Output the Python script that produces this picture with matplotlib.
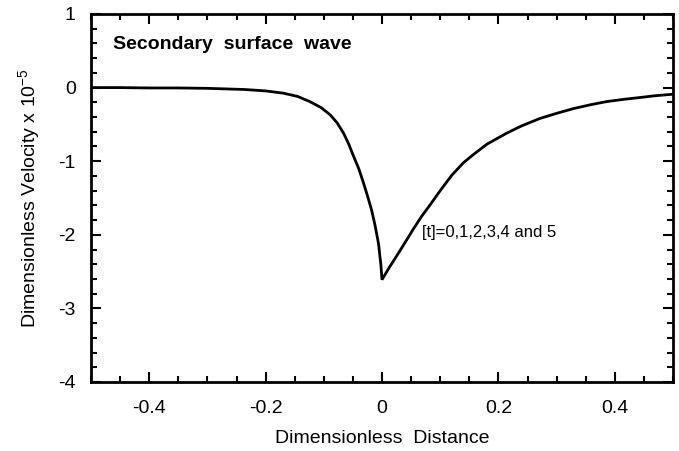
import matplotlib
matplotlib.use("Agg")
import matplotlib.pyplot as plt
from matplotlib.ticker import MultipleLocator

plt.rcParams['font.family'] = ['Liberation Sans', 'DejaVu Sans']
plt.rcParams['axes.unicode_minus'] = False

# Velocity profile of the secondary surface wave
distance = [-0.5, -0.45, -0.40, -0.35, -0.30, -0.26, -0.238, -0.20, -0.17, -0.145,
            -0.124, -0.105, -0.089, -0.077, -0.066, -0.057, -0.049, -0.040,
            -0.032, -0.025, -0.018, -0.012, -0.006, -0.002, 0.0,
            0.012, 0.025, 0.040, 0.054, 0.068, 0.082, 0.100, 0.120, 0.140,
            0.157, 0.180, 0.214, 0.240, 0.271, 0.300, 0.329, 0.360, 0.386,
            0.415, 0.443, 0.470, 0.5]
velocity = [0.0, 0.0, -0.005, -0.005, -0.01, -0.02, -0.025, -0.045, -0.075, -0.12,
            -0.19, -0.27, -0.37, -0.48, -0.62, -0.77, -0.93, -1.10,
            -1.29, -1.47, -1.66, -1.87, -2.12, -2.40, -2.61,
            -2.45, -2.29, -2.10, -1.92, -1.75, -1.60, -1.40, -1.19, -1.02,
            -0.91, -0.77, -0.62, -0.52, -0.42, -0.35, -0.285, -0.23, -0.19,
            -0.16, -0.135, -0.11, -0.09]

x_ticks = [-0.4, -0.2, 0, 0.2, 0.4]
x_labels = ['-0.4', '-0.2', '0', '0.2', '0.4']
y_ticks = [1, 0, -1, -2, -3, -4]
y_labels = ['1', '0', '-1', '-2', '-3', '-4']

fig = plt.figure(figsize=(6.79, 4.51), dpi=100)
ax = fig.add_axes([91 / 679, 1 - 382 / 451, 582 / 679, 368 / 451])

ax.plot(distance, velocity, color='black', lw=2.0, solid_joinstyle='miter')

ax.set_xlim(-0.5, 0.5)
ax.set_ylim(-4, 1)
ax.xaxis.set_minor_locator(MultipleLocator(0.05))
ax.yaxis.set_minor_locator(MultipleLocator(0.2))
ax.set_xticks(x_ticks)
ax.set_xticklabels(x_labels)
ax.set_yticks(y_ticks)
ax.set_yticklabels(y_labels)

ax.tick_params(which='both', direction='in', top=True, right=True,
               labelsize=14, width=1.5)
ax.tick_params(which='major', length=7)
ax.tick_params(axis='x', which='major', pad=13)
ax.tick_params(axis='y', which='major', pad=11)
ax.tick_params(which='minor', length=4)
for s in ax.spines.values():
    s.set_linewidth(2)

ax.set_xlabel('Dimensionless  Distance', fontsize=14, labelpad=9)
ax.set_ylabel('Dimensionless Velocity x 10$^{\\mathregular{-5}}$', fontsize=14,
              labelpad=11)

ax.text(0.038, 0.918, 'Secondary  surface  wave', transform=ax.transAxes,
        fontsize=14, fontweight='bold', ha='left', va='center')
ax.text(0.068, -1.97, '[t]=0,1,2,3,4 and 5', fontsize=12, ha='left', va='center')

fig.savefig('out.png', dpi=100)
